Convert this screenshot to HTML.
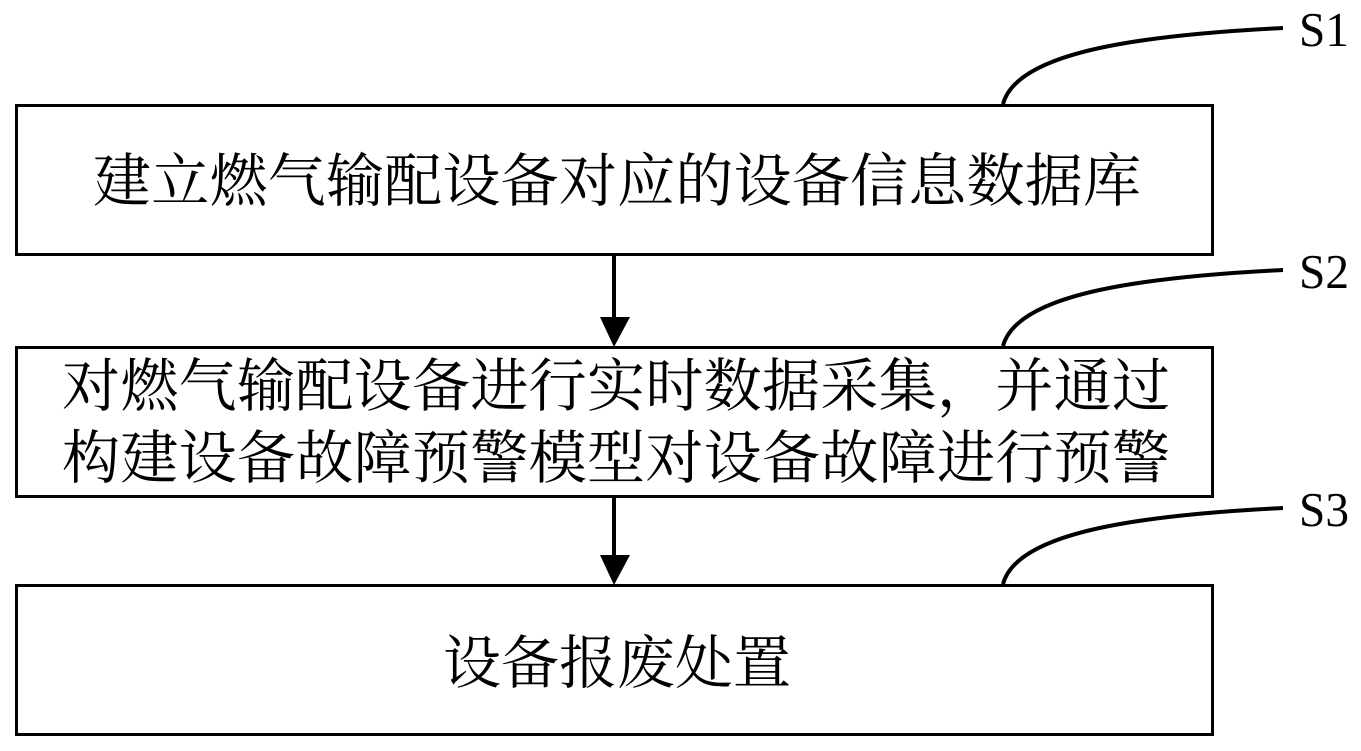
<!DOCTYPE html>
<html><head><meta charset="utf-8"><style>html,body{margin:0;padding:0;background:#fff}svg{display:block}
.c{font-family:"Liberation Serif","Noto Serif CJK SC",serif;font-size:58px;fill:#000}
.s{font-family:"Liberation Serif",serif;font-size:49px;fill:#000}</style></head><body>
<svg width="1361" height="751" viewBox="0 0 1361 751" xmlns="http://www.w3.org/2000/svg">
<g fill="none" stroke="#000" stroke-width="3">
<rect x="16.5" y="105.5" width="1196" height="149"/>
<rect x="16.5" y="347.5" width="1196" height="149"/>
<rect x="16.5" y="585.5" width="1196" height="149"/>
<g stroke-width="4">
<path d="M1003 104C1016 56 1120 36 1283 28"/>
<path d="M1003 346C1016 298 1120 278 1283 270"/>
<path d="M1003 584C1016 536 1120 516 1283 508"/>
<path d="M614 253V320M614 496V558"/>
</g>
</g>
<path d="M600 317H630L614 347ZM600 555H630L614 585Z" fill="#000"/>
<text class="c" x="93" y="201" textLength="1048">建立燃气输配设备对应的设备信息数据库</text>
<text class="c" x="62" y="406" textLength="1108">对燃气输配设备进行实时数据采集，并通过</text>
<text class="c" x="62" y="478" textLength="1108">构建设备故障预警模型对设备故障进行预警</text>
<text class="c" x="443" y="683" textLength="348">设备报废处置</text>
<text class="s" x="1299" y="46" textLength="50" lengthAdjust="spacingAndGlyphs">S1</text>
<text class="s" x="1299" y="288" textLength="50" lengthAdjust="spacingAndGlyphs">S2</text>
<text class="s" x="1299" y="526" textLength="50" lengthAdjust="spacingAndGlyphs">S3</text>
</svg></body></html>
